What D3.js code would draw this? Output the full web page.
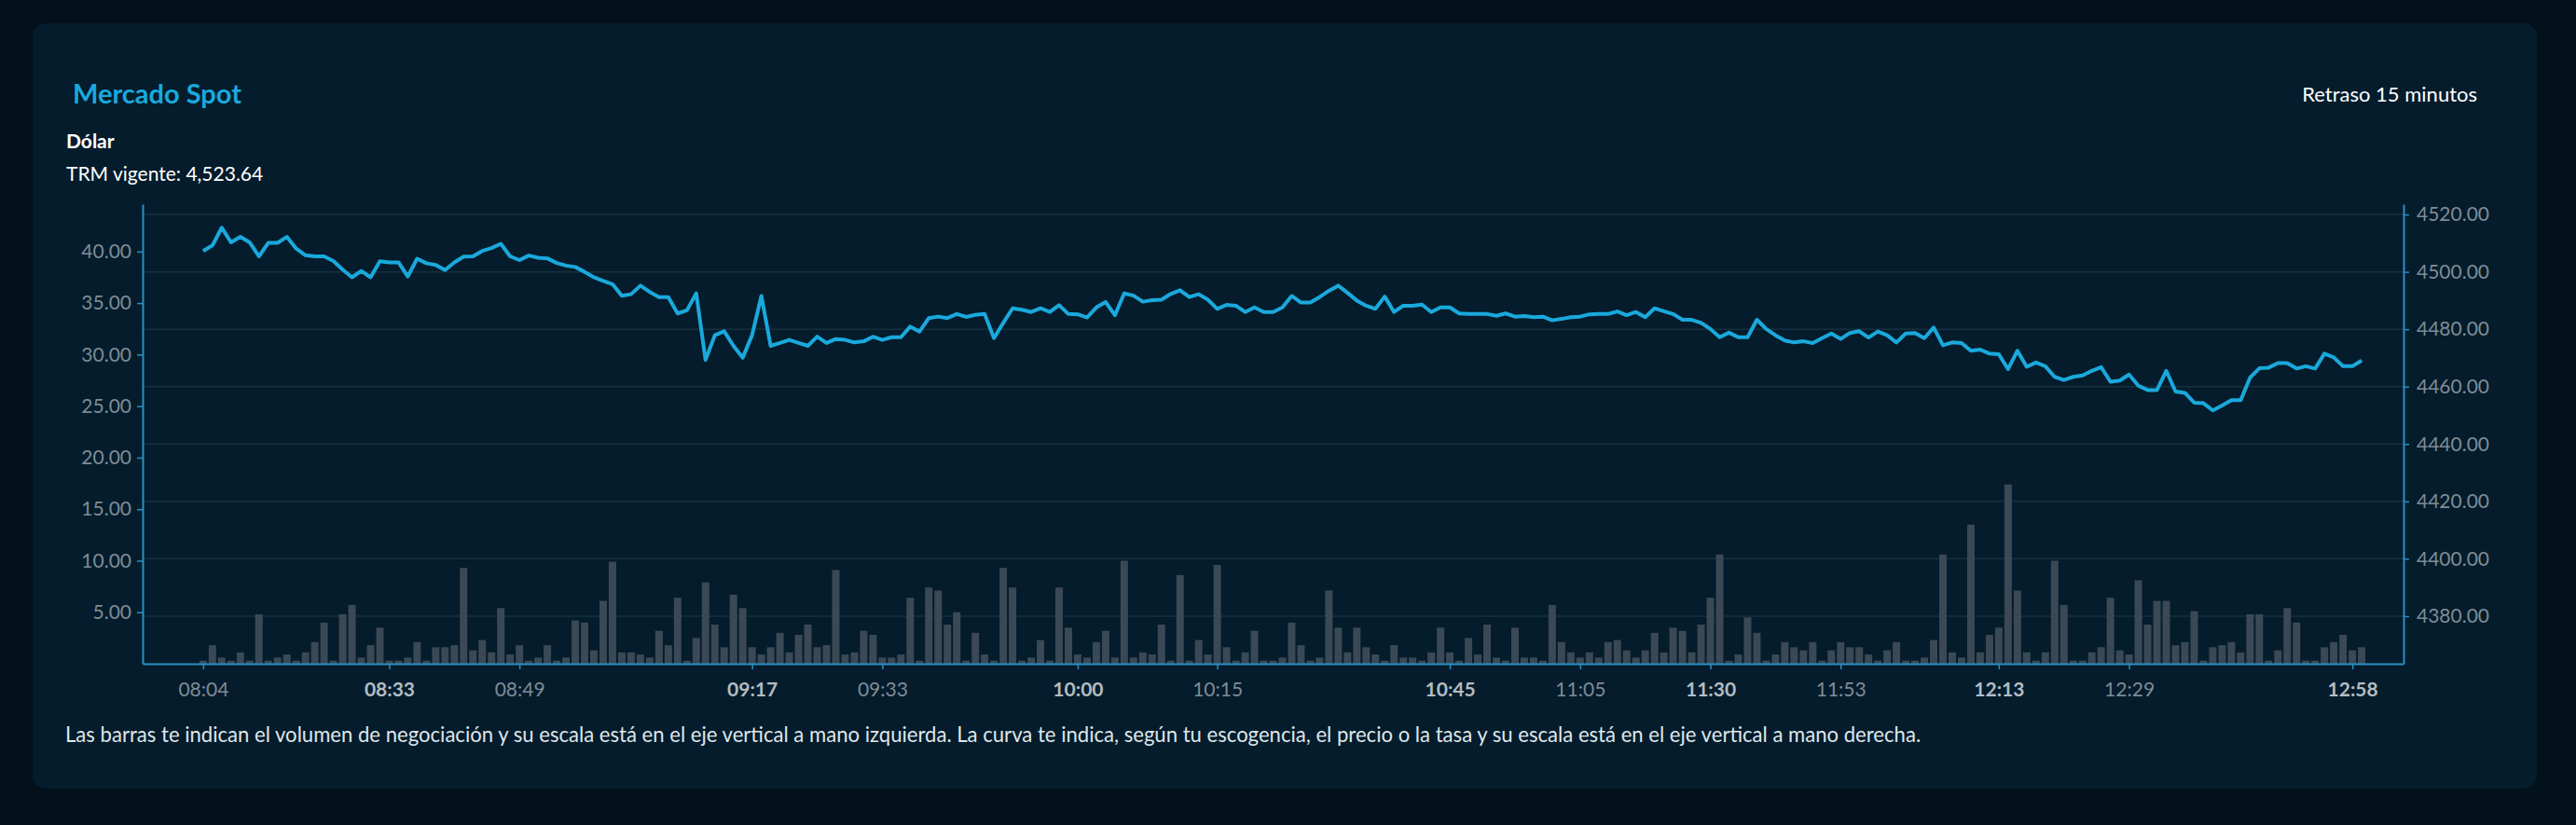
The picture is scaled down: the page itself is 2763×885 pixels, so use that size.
<!DOCTYPE html>
<html>
<head>
<meta charset="utf-8">
<script src="https://cdn.jsdelivr.net/npm/d3@7"></script>
<style>
  body { margin: 0; background: #03111b; font-family: Lato, "Open Sans", sans-serif; }
  svg { display: block; }
</style>
</head>
<body>
<svg id="chart" width="2763" height="885"></svg>
<script>
// precio (eje derecho)
var prices = [
  4507.3,4509.2,4515.4,4510.3,4512.2,4510.3,4505.4,4510.1,4510.1,4512.2,4508.1,4505.8,4505.4,4505.4,4503.8,4500.8,4498.1,4500.3,4498.1,4503.7,4503.3,4503.3,4498.4,4504.6,4503.0,4502.4,4500.6,4503.3,4505.3,4505.4,
  4507.3,4508.3,4509.8,4505.4,4504.1,4505.7,4504.9,4504.7,4503.1,4502.2,4501.7,4500.0,4498.1,4496.8,4495.7,4491.7,4492.2,4495.2,4493.0,4491.2,4491.2,4485.5,4486.6,4492.5,4469.3,4477.9,4479.3,4474.2,4470.1,
  4477.9,4491.6,4474.2,4475.2,4476.3,4475.2,4474.2,4477.4,4475.2,4476.6,4476.3,4475.4,4475.8,4477.4,4476.3,4477.2,4477.2,4480.9,4479.2,4483.9,4484.4,4483.9,4485.3,4484.3,4485.0,4485.3,4476.9,4482.2,4487.3,
  4486.8,4486.0,4487.3,4486.0,4488.4,4485.3,4485.2,4484.1,4487.6,4489.5,4484.9,4492.5,4491.7,4489.6,4490.1,4490.3,4492.3,4493.6,4491.2,4492.2,4490.3,4487.1,4488.5,4488.2,4486.0,4487.6,4486.0,4486.0,4487.6,
  4491.6,4489.3,4489.3,4491.2,4493.4,4495.2,4492.7,4490.0,4488.2,4487.1,4491.4,4486.0,4488.2,4488.2,4488.6,4486.0,4487.6,4487.6,4485.5,4485.3,4485.3,4485.3,4484.7,4485.5,4484.4,4484.6,4484.2,4484.4,4483.1,
  4483.6,4484.2,4484.4,4485.2,4485.3,4485.3,4486.2,4484.9,4486.0,4484.2,4487.3,4486.3,4485.3,4483.3,4483.3,4482.2,4480.1,4477.2,4478.8,4477.2,4477.2,4483.3,4480.1,4477.9,4476.1,4475.4,4475.8,4475.2,4476.9,
  4478.5,4476.6,4478.7,4479.3,4477.1,4479.2,4477.9,4475.4,4478.5,4478.7,4476.9,4480.6,4474.4,4475.4,4475.2,4472.5,4472.9,4471.5,4471.3,4466.1,4472.5,4466.9,4468.4,4467.1,4463.4,4462.3,4463.4,4463.9,4465.5,
  4466.8,4461.7,4462.1,4464.2,4460.3,4458.8,4458.8,4465.5,4458.3,4457.8,4454.4,4454.2,4451.7,4453.4,4455.3,4455.3,4463.1,4466.4,4466.6,4468.2,4468.2,4466.3,4467.1,4466.3,4471.5,4470.2,4467.1,4467.1,4469.1
];

// volumen (eje izquierdo)
var volumes = [
  0.3,1.8,0.6,0.3,1.1,0.3,4.8,0.3,0.6,0.9,0.3,1.1,2.1,4.0,0.3,4.8,5.7,0.6,1.8,3.5,0.3,0.3,0.6,2.1,0.3,1.6,1.6,1.8,9.3,1.3,
  2.3,1.1,5.4,0.9,1.8,0.3,0.6,1.8,0.3,0.6,4.2,4.0,1.3,6.1,9.9,1.1,1.1,0.9,0.6,3.2,1.8,6.4,0.3,2.5,7.9,3.8,1.6,6.7,5.4,
  1.6,0.9,1.6,3.0,1.1,2.8,3.8,1.6,1.8,9.1,0.9,1.1,3.2,2.8,0.6,0.6,0.9,6.4,0.3,7.4,7.1,3.8,5.0,0.3,3.0,0.9,0.3,9.3,7.4,
  0.3,0.6,2.3,0.3,7.4,3.5,0.9,0.6,2.1,3.2,0.6,10.0,0.6,1.1,0.9,3.8,0.3,8.6,0.3,2.3,0.9,9.6,1.6,0.3,1.1,3.2,0.3,0.3,0.6,
  4.0,1.8,0.3,0.6,7.1,3.5,1.1,3.5,1.6,0.9,0.3,1.8,0.6,0.6,0.3,1.1,3.5,1.1,0.3,2.5,0.9,3.8,0.6,0.3,3.5,0.6,0.6,0.3,5.7,
  2.1,1.1,0.6,1.1,0.6,2.1,2.3,1.3,0.6,1.3,3.0,1.1,3.5,3.2,1.1,3.8,6.4,10.6,0.3,0.9,4.5,3.0,0.3,0.9,2.1,1.6,1.3,2.1,0.3,
  1.3,2.1,1.6,1.6,0.9,0.3,1.3,2.1,0.3,0.3,0.6,2.3,10.6,1.1,0.6,13.5,1.1,2.8,3.5,17.4,7.1,1.1,0.3,1.1,10.0,5.7,0.3,0.3,1.1,
  1.6,6.4,1.3,0.9,8.1,3.8,6.1,6.1,1.8,2.1,5.1,0.3,1.6,1.8,2.1,1.1,4.8,4.8,0.3,1.3,5.4,4.0,0.3,0.3,1.6,2.1,2.8,1.3,1.6
];

// etiquetas del eje x (índice del punto, hora, resaltada)
var tickIndex = [0, 20, 34, 59, 73, 94, 109, 134, 148, 162, 176, 193, 207, 231];
var tickLabels = ["08:04","08:33","08:49","09:17","09:33","10:00","10:15","10:45","11:05","11:30","11:53","12:13","12:29","12:58"];
var tickBold = ["08:33","09:17","10:00","10:45","11:30","12:13","12:58"];

var volTicks = [5, 10, 15, 20, 25, 30, 35, 40];
var priceTicks = [4380, 4400, 4420, 4440, 4460, 4480, 4500, 4520];

var svg = d3.select("#chart");
var L = 153, R = 2578, T = 219, B = 712;

svg.append("rect").attr("x", 35).attr("y", 25).attr("width", 2686).attr("height", 821)
  .attr("rx", 14).attr("fill", "#041c2c");

var x = d3.scaleLinear().domain([-6.5, 236.5]).range([L, R]);
var yVol = d3.scaleLinear().domain([0, 44.6]).range([B, T]);
var yPrice = d3.scaleLinear().domain([4363.4, 4523.6]).range([B, T]);

// grid
svg.append("g").selectAll("line").data(priceTicks).join("line")
  .attr("x1", L).attr("x2", R)
  .attr("y1", function(d) { return yPrice(d); }).attr("y2", function(d) { return yPrice(d); })
  .attr("stroke", "#17303f").attr("stroke-width", 1.5);

// bars
var bw = 8;
svg.append("g").selectAll("rect").data(volumes).join("rect")
  .attr("x", function(d, i) { return x(i) - bw / 2; })
  .attr("y", function(d) { return yVol(d); })
  .attr("width", bw)
  .attr("height", function(d) { return B - yVol(d); })
  .attr("fill", "#3a4955");

// line
var line = d3.line()
  .x(function(d, i) { return x(i); })
  .y(function(d) { return yPrice(d); });
svg.append("path").datum(prices)
  .attr("fill", "none").attr("stroke", "#1aa9dc").attr("stroke-width", 4)
  .attr("stroke-linejoin", "round").attr("d", line);

// axes
function styleAxis(g) {
  g.select(".domain").attr("stroke", "#2b8fc4").attr("stroke-width", 2);
  g.selectAll(".tick line").attr("stroke", "#2b8fc4").attr("stroke-width", 1.5);
  g.selectAll(".tick text").attr("fill", "#7f8c96").style("font-size", "21px")
    .style("font-family", "Lato, 'Open Sans', sans-serif");
}
var fmt = d3.format(".2f");
svg.append("g").attr("transform", "translate(" + L + ",0)")
  .call(d3.axisLeft(yVol).tickValues(volTicks).tickFormat(fmt).tickSize(6).tickSizeOuter(0).tickPadding(6))
  .call(styleAxis);
svg.append("g").attr("transform", "translate(" + R + ",0)")
  .call(d3.axisRight(yPrice).tickValues(priceTicks).tickFormat(fmt).tickSize(6).tickSizeOuter(0).tickPadding(8))
  .call(styleAxis);
var xa = svg.append("g").attr("transform", "translate(0," + B + ")")
  .call(d3.axisBottom(x).tickValues(tickIndex)
    .tickFormat(function(d, i) { return tickLabels[i]; })
    .tickSize(6).tickSizeOuter(0).tickPadding(14))
  .call(styleAxis);
xa.selectAll(".tick text")
  .attr("fill", function(d, i) { return tickBold.indexOf(tickLabels[i]) >= 0 ? "#b3bcc3" : "#7f8c96"; })
  .style("font-weight", function(d, i) { return tickBold.indexOf(tickLabels[i]) >= 0 ? "700" : "400"; });

// texts
svg.append("text").attr("x", 78).attr("y", 111).attr("fill", "#1aa9dc")
  .style("font-size", "29px").style("font-weight", "700").text("Mercado Spot");
svg.append("text").attr("x", 2657).attr("y", 109).attr("text-anchor", "end").attr("fill", "#ffffff")
  .style("font-size", "22px").text("Retraso 15 minutos");
svg.append("text").attr("x", 71).attr("y", 159).attr("fill", "#ffffff")
  .style("font-size", "21px").style("font-weight", "700").text("Dólar");
svg.append("text").attr("x", 71).attr("y", 194).attr("fill", "#ffffff")
  .style("font-size", "21px").text("TRM vigente: 4,523.64");
svg.append("text").attr("x", 70).attr("y", 796).attr("fill", "#dfe6ea")
  .style("font-size", "22.1px")
  .text("Las barras te indican el volumen de negociación y su escala está en el eje vertical a mano izquierda. La curva te indica, según tu escogencia, el precio o la tasa y su escala está en el eje vertical a mano derecha.");
</script>
</body>
</html>
